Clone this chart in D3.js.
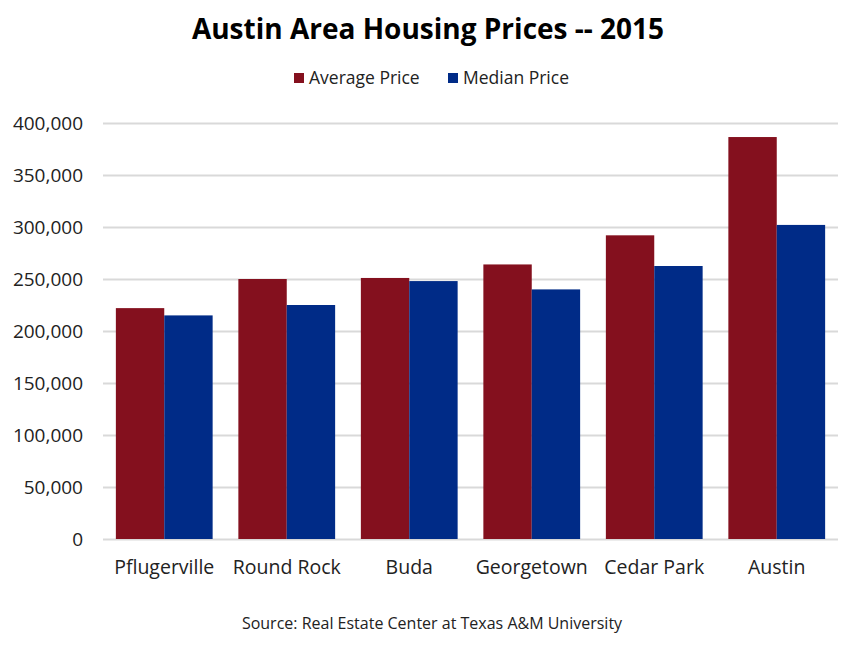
<!DOCTYPE html>
<meta charset="utf-8">
<style>
body { margin: 0; background: #fff; font-family: "Open Sans", sans-serif; }
.grid line { stroke: #d9d9d9; stroke-width: 2; }
.grid path { display: none; }
.axis text { fill: #222; }
</style>
<svg width="854" height="653"></svg>
<script src="https://d3js.org/d3.v7.min.js"></script>
<script>

// data
var cities = ["Pflugerville", "Round Rock", "Buda", "Georgetown", "Cedar Park", "Austin"];
var averagePrice = [222000, 250000, 251000, 264000, 292000, 386500];
var medianPrice  = [215000, 225000, 248000, 240000, 262500, 302000];
var seriesNames = ["Average Price", "Median Price"];
var yTicks = [0, 50000, 100000, 150000, 200000, 250000, 300000, 350000, 400000];

var svg = d3.select("svg"),
    plotLeft = 103, plotRight = 838, plotTop = 123, plotBottom = 539;

var color = d3.scaleOrdinal()
    .domain(seriesNames)
    .range(["#84101e", "#002b87"]);

var x = d3.scaleBand()
    .domain(cities)
    .range([plotLeft, plotRight])
    .paddingInner(0.21)
    .paddingOuter(0.105);

var x1 = d3.scaleBand()
    .domain(seriesNames)
    .range([0, x.bandwidth()]);

var y = d3.scaleLinear()
    .domain([0, 400000])
    .range([plotBottom, plotTop]);

var fmt = d3.format(",");

// gridlines
svg.append("g")
    .attr("class", "grid")
    .attr("transform", "translate(" + plotLeft + ",0)")
    .call(d3.axisLeft(y).tickValues(yTicks).tickSize(-(plotRight - plotLeft)).tickFormat(""));

// y labels
svg.append("g")
    .attr("class", "axis")
  .selectAll("text")
  .data(yTicks)
  .enter().append("text")
    .attr("x", 83)
    .attr("y", function(d) { return y(d); })
    .attr("dy", "0.35em")
    .attr("text-anchor", "end")
    .style("font-size", "19px")
    .text(function(d) { return fmt(d); });

// bars
var rows = cities.map(function(c, i) {
  return {city: c, values: [
    {key: seriesNames[0], value: averagePrice[i]},
    {key: seriesNames[1], value: medianPrice[i]}
  ]};
});

svg.append("g")
  .selectAll("g")
  .data(rows)
  .enter().append("g")
    .attr("transform", function(d) { return "translate(" + x(d.city) + ",0)"; })
  .selectAll("rect")
  .data(function(d) { return d.values; })
  .enter().append("rect")
    .attr("x", function(d) { return x1(d.key); })
    .attr("width", x1.bandwidth())
    .attr("y", function(d) { return y(d.value); })
    .attr("height", function(d) { return plotBottom - y(d.value); })
    .attr("fill", function(d) { return color(d.key); });

// category labels
svg.append("g")
    .attr("class", "axis")
  .selectAll("text")
  .data(cities)
  .enter().append("text")
    .attr("x", function(d) { return x(d) + x.bandwidth() / 2; })
    .attr("y", 574)
    .attr("text-anchor", "middle")
    .style("font-size", "19.5px")
    .text(function(d) { return d; });

// title
svg.append("text")
    .attr("x", 428)
    .attr("y", 39)
    .attr("text-anchor", "middle")
    .style("font-size", "28px")
    .style("font-weight", "bold")
    .style("fill", "#000")
    .text("Austin Area Housing Prices -- 2015");

// legend
var legendX = [294, 448];
var legend = svg.append("g")
  .selectAll("g")
  .data(seriesNames)
  .enter().append("g")
    .attr("transform", function(d, i) { return "translate(" + legendX[i] + ",78)"; });

legend.append("rect")
    .attr("y", -5)
    .attr("width", 10)
    .attr("height", 10)
    .attr("fill", function(d) { return color(d); });

legend.append("text")
    .attr("x", 15)
    .attr("dy", "0.35em")
    .style("font-size", "17.5px")
    .style("fill", "#222")
    .text(function(d) { return d; });

// source
svg.append("text")
    .attr("x", 432)
    .attr("y", 629)
    .attr("text-anchor", "middle")
    .style("font-size", "16px")
    .style("fill", "#222")
    .text("Source: Real Estate Center at Texas A&M University");

</script>
